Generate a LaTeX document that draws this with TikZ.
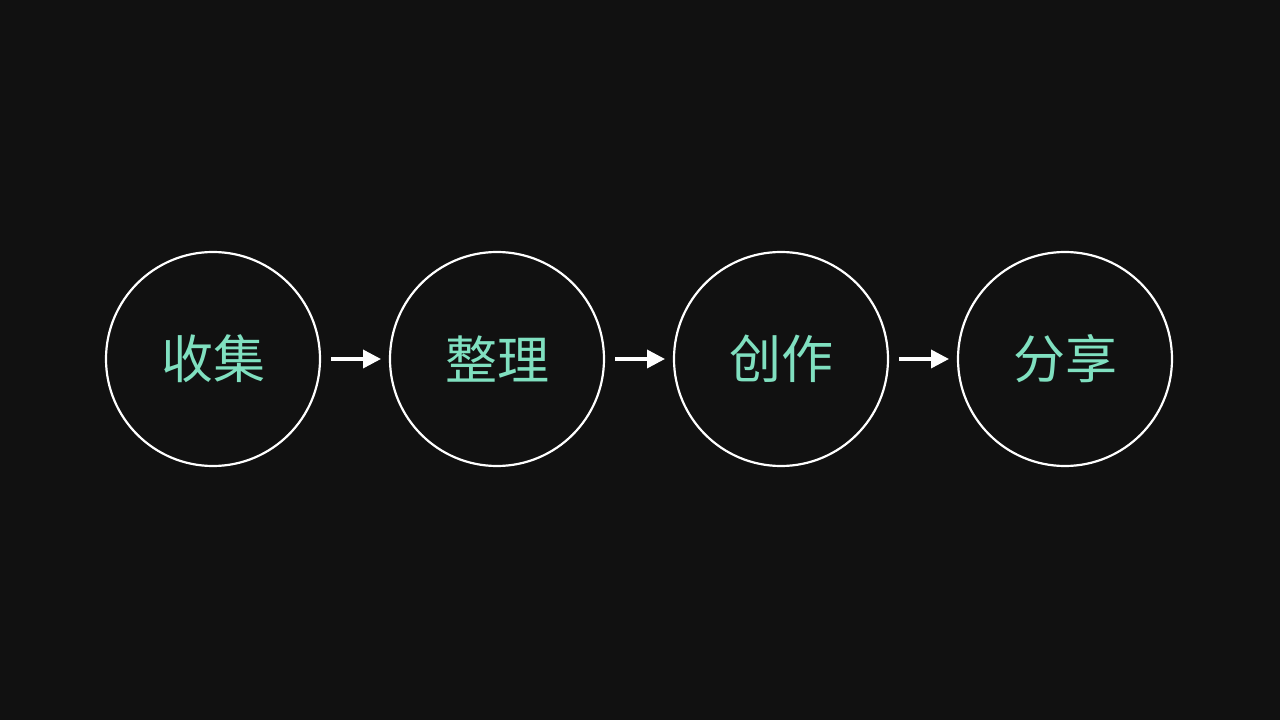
\documentclass[tikz,border=0pt]{standalone}
\usepackage{fontspec}
\newfontfamily\cjk{Noto Sans CJK SC}
\usetikzlibrary{arrows.meta}
\definecolor{bg}{HTML}{111111}
\definecolor{mint}{HTML}{80E0C0}
\tikzset{stage/.style={shape=circle,draw=white,line width=2.2pt,minimum size=214pt,inner sep=0pt,text=mint,font=\cjk\fontsize{52}{62}\selectfont},
flow/.style={white,line width=3.5pt,-{Triangle[length=18pt,width=18pt]}}}
\begin{document}
\begin{tikzpicture}[x=1pt,y=1pt]
\fill[bg] (0,0) rectangle (1280,720);
\useasboundingbox (0,0) rectangle (1280,720);
\node (p1) at (213,361) [stage] {收集};
\node (p2) at (497,361) [stage] {整理};
\node (p3) at (781,361) [stage] {创作};
\node (p4) at (1065,361) [stage] {分享};
\coordinate (a1) at (331,361); \coordinate (b1) at (381,361);
\coordinate (a2) at (615,361); \coordinate (b2) at (665,361);
\coordinate (a3) at (899,361); \coordinate (b3) at (949,361);
\draw[flow] (a1) -- (b1);
\draw[flow] (a2) -- (b2);
\draw[flow] (a3) -- (b3);
\end{tikzpicture}
\end{document}
